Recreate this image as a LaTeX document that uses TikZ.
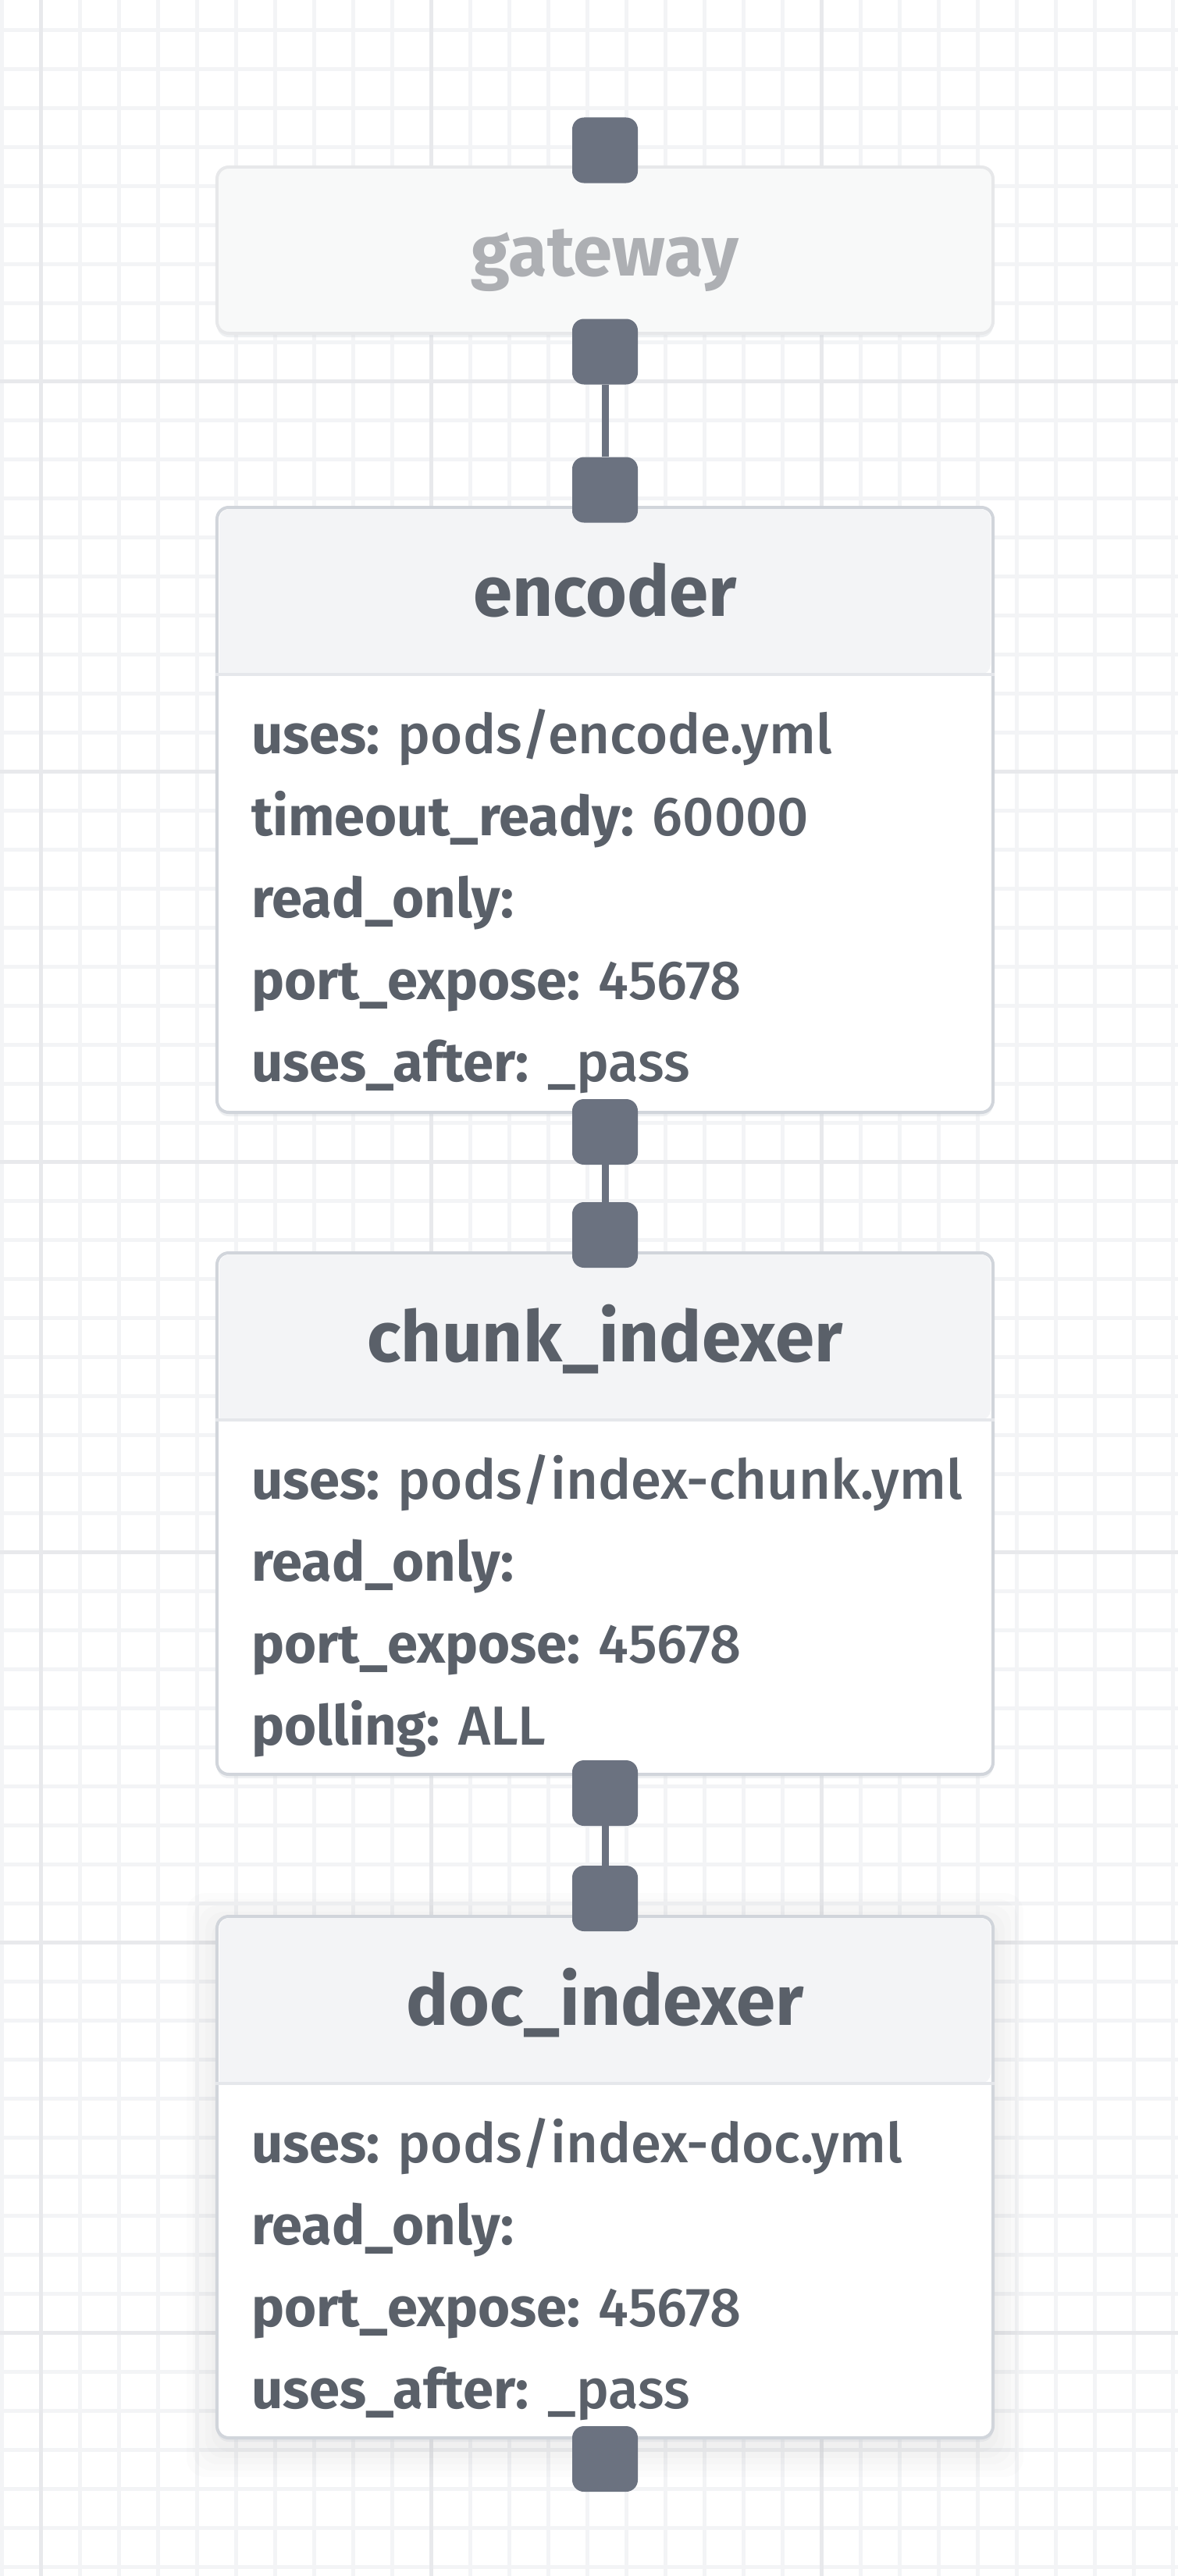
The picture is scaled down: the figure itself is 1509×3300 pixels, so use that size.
\documentclass[tikz,border=0pt]{standalone}
\usepackage{fontspec}
\setmainfont{Fira Sans}[UprightFont={* Medium}, BoldFont={* Bold}]
\usetikzlibrary{shadows}
\definecolor{gridminor}{HTML}{F3F4F6}
\definecolor{gridmajor}{HTML}{E8E9EC}
\definecolor{portgray}{HTML}{6B7280}
\definecolor{podborder}{HTML}{D1D5DB}
\definecolor{podhead}{HTML}{F3F4F6}
\definecolor{podsep}{HTML}{E5E7EB}
\definecolor{podtext}{HTML}{5A6069}
\definecolor{gwfill}{HTML}{F8F9F9}
\definecolor{gwborder}{HTML}{E7E8EA}
\definecolor{gwtext}{HTML}{ADAFB3}
\tikzset{
  podbox/.style={draw=podborder, line width=4bp, fill=white, rounded corners=15bp,
    minimum width=994bp, inner sep=0pt,
    drop shadow={shadow xshift=0bp, shadow yshift=-5bp, opacity=.35, fill=podborder}},
  podport/.style={fill=portgray, rounded corners=15bp, minimum size=84bp, inner sep=0pt},
  podwire/.style={draw=portgray, line width=9bp},
  podtitle/.style={anchor=base, inner sep=0pt, text=podtext,
    font=\fontsize{90.5bp}{100bp}\selectfont\bfseries},
  podline/.style={anchor=base west, inner sep=0pt, text=podtext,
    font=\fontsize{70.5bp}{84bp}\selectfont},
}

\begin{document}
\begin{tikzpicture}[x=1bp,y=-1bp]
  \useasboundingbox (0,0) rectangle (1509,3300);
  \fill[white] (0,0) rectangle (1509,3300);
%% grid
  \foreach \gx in {0,...,30}
    \draw[gridminor, line width=5bp] (2.5+50*\gx,0) -- (2.5+50*\gx,3300);
  \foreach \gy in {0,...,65}
    \draw[gridminor, line width=5bp] (0,38.5+50*\gy) -- (1509,38.5+50*\gy);
  \foreach \gx in {0,1,2}
    \draw[gridmajor, line width=5bp] (52.5+500*\gx,0) -- (52.5+500*\gx,3300);
  \foreach \gy in {0,...,5}
    \draw[gridmajor, line width=5bp] (0,488.5+500*\gy) -- (1509,488.5+500*\gy);
%%
  % Node: gateway
\begin{scope}
  \node[podbox, draw=gwborder, fill=gwfill, drop shadow={opacity=0}, minimum height=213bp] (gateway) at (775,320.5) {};
  \node[podtitle, text=gwtext] (gateway title) at (775,353) {gateway};
\end{scope}
  % Node: encoder
\begin{scope}
  \node[podbox, minimum height=775bp] (encoder) at (775,1037.5) {};
  \fill[podhead] (281,864) [rounded corners=13bp] -- (281,652) -- (1269,652) -- (1269,864) [sharp corners] -- cycle;
  \draw[podsep, line width=4bp] (encoder.west |- 0,864) -- (encoder.east |- 0,864);
  \node[podtitle] (encoder title) at (775,789) {encoder};
  \node[podline] (encoder uses) at (322,965) {\textbf{uses:} pods/encode.yml};
  \node[podline] (encoder timeout) at (322,1070) {\textbf{timeout\_ready:} 60000};
  \node[podline] (encoder readonly) at (322,1175) {\textbf{read\_only:}};
  \node[podline] (encoder port) at (322,1280) {\textbf{port\_expose:} 45678};
  \node[podline] (encoder after) at (322,1385) {\textbf{uses\_after:} \_pass};
\end{scope}
  % Node: chunk_indexer
\begin{scope}
  \node[podbox, minimum height=668bp] (chunk) at (775,1939) {};
  \fill[podhead] (281,1819) [rounded corners=13bp] -- (281,1607) -- (1269,1607) -- (1269,1819) [sharp corners] -- cycle;
  \draw[podsep, line width=4bp] (chunk.west |- 0,1819) -- (chunk.east |- 0,1819);
  \node[podtitle] (chunk title) at (775,1744) {chunk\_indexer};
  \node[podline] (chunk uses) at (322,1920) {\textbf{uses:} pods/index-chunk.yml};
  \node[podline] (chunk readonly) at (322,2025) {\textbf{read\_only:}};
  \node[podline] (chunk port) at (322,2130) {\textbf{port\_expose:} 45678};
  \node[podline] (chunk polling) at (322,2235) {\textbf{polling:} ALL};
\end{scope}
  % Node: doc_indexer
\begin{scope}
  \foreach \g in {8,16,24,32,40}
    \fill[black, opacity=.012, rounded corners=24bp] (279-\g,2465-\g) rectangle (1271+\g,3133+\g);
  \node[podbox, minimum height=668bp] (doc) at (775,2789) {};
  \fill[podhead] (281,2669) [rounded corners=13bp] -- (281,2457) -- (1269,2457) -- (1269,2669) [sharp corners] -- cycle;
  \draw[podsep, line width=4bp] (doc.west |- 0,2669) -- (doc.east |- 0,2669);
  \node[podtitle] (doc title) at (775,2594) {doc\_indexer};
  \node[podline] (doc uses) at (322,2770) {\textbf{uses:} pods/index-doc.yml};
  \node[podline] (doc readonly) at (322,2875) {\textbf{read\_only:}};
  \node[podline] (doc port) at (322,2980) {\textbf{port\_expose:} 45678};
  \node[podline] (doc after) at (322,3085) {\textbf{uses\_after:} \_pass};
\end{scope}
  % Ports
  \node[podport] (gateway in) at (775,192.5) {};
  \node[podport] (gateway out) at (775,450.5) {};
  \node[podport] (encoder in) at (775,627.5) {};
  \node[podport] (encoder out) at (775,1450) {};
  \node[podport] (chunk in) at (775,1582) {};
  \node[podport] (chunk out) at (775,2297) {};
  \node[podport] (doc in) at (775,2432) {};
  \node[podport] (doc out) at (775,3150) {};
  % Edge: gateway -> encoder
  \draw[podwire] (gateway out.south) -- (encoder in.north);
  % Edge: encoder -> chunk_indexer
  \draw[podwire] (encoder out.south) -- (chunk in.north);
  % Edge: chunk_indexer -> doc_indexer
  \draw[podwire] (chunk out.south) -- (doc in.north);
%
\end{tikzpicture}
\end{document}
